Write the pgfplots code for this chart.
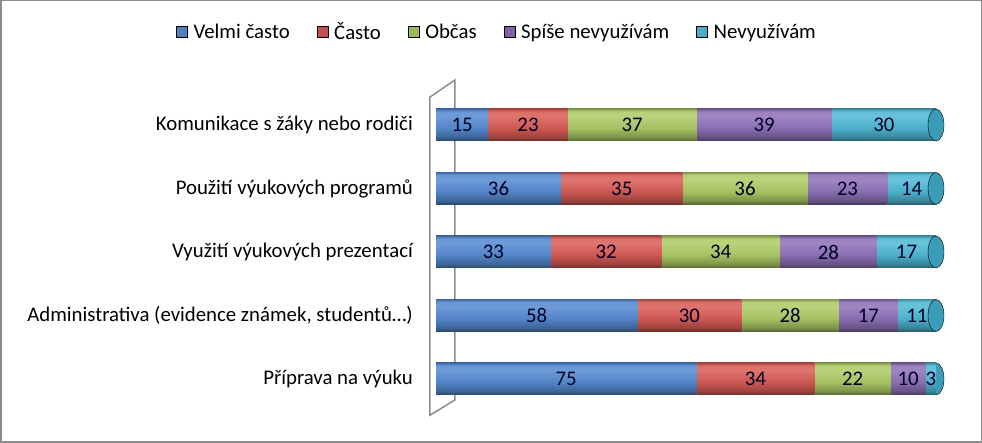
\documentclass[border=0pt]{standalone}
\usepackage{pgfplots}
\pgfplotsset{compat=1.18}
\usepackage{fontspec}
\setmainfont{Carlito}
\definecolor{cBlue}{HTML}{568BD2}
\definecolor{cRed}{HTML}{D85C56}
\definecolor{cGreen}{HTML}{ADCB66}
\definecolor{cPurple}{HTML}{8F72B9}
\definecolor{cCyan}{HTML}{4FB8D5}
\definecolor{capCyan}{HTML}{3A9CB8}
\definecolor{lBlue}{HTML}{4F81BD}
\definecolor{lRed}{HTML}{C0504D}
\definecolor{lGreen}{HTML}{9BBB59}
\definecolor{lPurple}{HTML}{8064A2}
\definecolor{lCyan}{HTML}{4BACC6}
\definecolor{wallgray}{HTML}{8C8C8C}
\newcommand\lblfont{\fontsize{20.8}{24}\selectfont}
\newcommand\declcyl[2]{\pgfdeclareverticalshading{#1}{100bp}{color(0bp)=(#2!50!black); color(25bp)=(#2!50!black); color(31bp)=(#2!72!black); color(45bp)=(#2!95!black); color(64bp)=(#2!85!white); color(71bp)=(#2!90!white); color(75bp)=(#2!78!black); color(100bp)=(#2!78!black)}}
\declcyl{shBlue}{cBlue}
\declcyl{shRed}{cRed}
\declcyl{shGreen}{cGreen}
\declcyl{shPurple}{cPurple}
\declcyl{shCyan}{cCyan}
\pgfplotsset{
  base/.style={at={(436pt,32.25pt)}, anchor=south west, scale only axis, width=500pt, height=317.5pt,
    xmin=0, xmax=144, ymin=-0.5, ymax=4.5, clip=false},
  row/.style={base, hide axis, xbar stacked, bar width=32pt,
    point meta=explicit symbolic, nodes near coords,
    every node near coord/.append style={anchor=center, font=\lblfont, text=black!85!blue}},
  cyl/.style={draw=none, shading=#1},
  cap/.style={only marks, mark=*, mark size=16pt, mark options={xscale=0.5, draw=none, fill=capCyan}},
}
\begin{document}
\begin{tikzpicture}
\useasboundingbox (0,0) rectangle (982pt,443pt);
\fill[white] (0,0) rectangle (982pt,443pt);
\draw[color=wallgray, line width=1.5pt] (0.75pt,0.75pt) rectangle (981.25pt,442.25pt);
% frame axis: wall, category labels, legend
\begin{axis}[base,
  axis line style={draw=none}, major tick length=0pt,
  xtick=\empty, ytick={0,1,2,3,4},
  yticklabels={Příprava na výuku,{Administrativa (evidence známek, studentů…)},Využití výukových prezentací\hspace{8pt},Použití výukových programů,Komunikace s žáky nebo rodiči},
  yticklabel style={anchor=east, inner sep=0pt, xshift=-23pt, font=\lblfont},
  legend columns=5,
  legend style={at={(0.122,1.193)}, anchor=center, draw=none, fill=none, font=\lblfont,
    /tikz/every odd column/.append style={column sep=4pt},
    /tikz/every even column/.append style={column sep=25pt}},
  legend image code/.code={\fill[#1] (0pt,-5.5pt) rectangle (11pt,5.5pt);},
]
\draw[wallgray, line width=1.5pt, fill=white] (axis cs:-1.73,4.44) -- (axis cs:5.47,4.71) -- (axis cs:5.47,-0.33) -- (axis cs:-1.73,-0.57) -- cycle;
\addlegendimage{fill=lBlue}
\addlegendimage{fill=lRed}
\addlegendimage{fill=lGreen}
\addlegendimage{fill=lPurple}
\addlegendimage{fill=lCyan}
\legend{Velmi často, Často, Občas, Spíše nevyužívám, Nevyužívám}
\end{axis}
% Komunikace s žáky nebo rodiči
\begin{axis}[row]
\addplot[cyl=shBlue] coordinates {(15,4) [15]};
\addplot[cyl=shRed] coordinates {(23,4) [23]};
\addplot[cyl=shGreen] coordinates {(37,4) [37]};
\addplot[cyl=shPurple] coordinates {(39,4) [39]};
\addplot[cyl=shCyan] coordinates {(30,4) [30]};
\end{axis}
% Použití výukových programů
\begin{axis}[row]
\addplot[cyl=shBlue] coordinates {(36,3) [36]};
\addplot[cyl=shRed] coordinates {(35,3) [35]};
\addplot[cyl=shGreen] coordinates {(36,3) [36]};
\addplot[cyl=shPurple] coordinates {(23,3) [23]};
\addplot[cyl=shCyan] coordinates {(14,3) [14]};
\end{axis}
% Využití výukových prezentací
\begin{axis}[row]
\addplot[cyl=shBlue] coordinates {(33,2) [33]};
\addplot[cyl=shRed] coordinates {(32,2) [32]};
\addplot[cyl=shGreen] coordinates {(34,2) [34]};
\addplot[cyl=shPurple] coordinates {(28,2) [28]};
\addplot[cyl=shCyan] coordinates {(17,2) [17]};
\end{axis}
% Administrativa
\begin{axis}[row]
\addplot[cyl=shBlue] coordinates {(58,1) [58]};
\addplot[cyl=shRed] coordinates {(30,1) [30]};
\addplot[cyl=shGreen] coordinates {(28,1) [28]};
\addplot[cyl=shPurple] coordinates {(17,1) [17]};
\addplot[cyl=shCyan] coordinates {(11,1) [11]};
\end{axis}
% cylinder end caps at the bar totals (144 for every row)
\begin{axis}[base, hide axis]
\addplot[cap] coordinates {(144,0) (144,1) (144,2) (144,3) (144,4)};
\end{axis}
% Příprava na výuku (drawn after the caps so that its small "3" stays readable)
\begin{axis}[row]
\addplot[cyl=shBlue] coordinates {(75,0) [75]};
\addplot[cyl=shRed] coordinates {(34,0) [34]};
\addplot[cyl=shGreen] coordinates {(22,0) [22]};
\addplot[cyl=shPurple] coordinates {(10,0) [10]};
\addplot[cyl=shCyan] coordinates {(3,0) [3]};
\end{axis}
\end{tikzpicture}
\end{document}
